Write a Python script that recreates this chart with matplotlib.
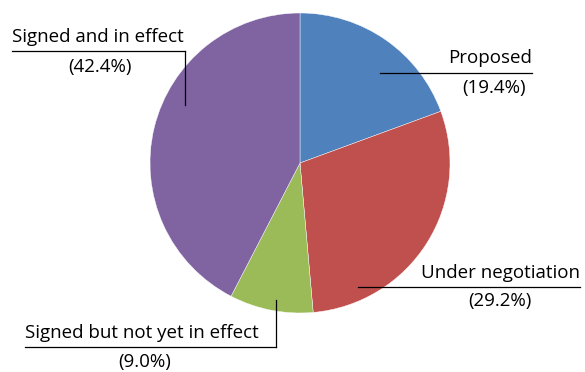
import matplotlib.pyplot as plt

statuts = ["Proposed", "Under negotiation", "Signed but not yet in effect", "Signed and in effect"]
parts = [19.4, 29.2, 9.0, 42.4]
couleurs = ["#4F81BD", "#C0504D", "#9BBB59", "#8064A2"]

plt.rcParams['font.family'] = ['Open Sans', 'DejaVu Sans']

W, H = 585, 372
fig = plt.figure(figsize=(W / 100, H / 100), dpi=100)
ax = fig.add_axes([0, 0, 1, 1])

# camembert en coordonnées pixel (y vers le haut)
ax.pie(parts, colors=couleurs, startangle=90, counterclock=False,
       center=(300, H - 163), radius=150,
       wedgeprops=dict(edgecolor="white", linewidth=0.3))
ax.set_xlim(0, W)
ax.set_ylim(0, H)
ax.set_aspect('equal')
ax.axis('off')


def y(v):
    return H - v


# étiquettes : (x du texte, alignement, y texte, ligne horizontale, ligne verticale, x pourcentage, y pourcentage)
etiquettes = [
    (532, 'right', 58, (380, 532, 73), None, 494, 88),
    (580, 'right', 273, (358, 580, 287), None, 500, 301),
    (25, 'left', 333, (25, 276, 347), (276, 300, 347), 145, 362),
    (12, 'left', 37, (12, 185, 51), (185, 51, 105), 100, 67),
]

for nom, val, (tx, ha, ty, hl, vl, px, py) in zip(statuts, parts, etiquettes):
    ax.text(tx, y(ty), nom, ha=ha, va='center', fontsize=13.5, color='black')
    ax.text(px, y(py), f"({val:.1f}%)", ha='center', va='center', fontsize=13.5, color='black')
    ax.plot([hl[0], hl[1]], [y(hl[2]), y(hl[2])], color='black', linewidth=0.9)
    if vl is not None:
        ax.plot([vl[0], vl[0]], [y(vl[1]), y(vl[2])], color='black', linewidth=0.9)

fig.savefig("out.png", dpi=100)
